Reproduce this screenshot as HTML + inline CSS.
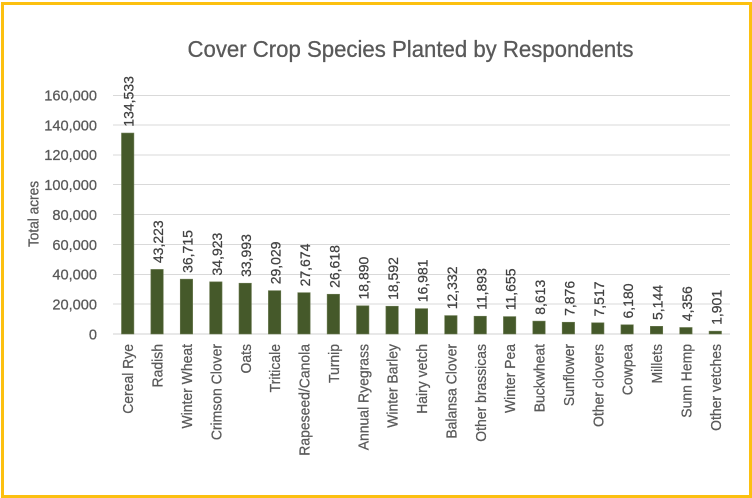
<!DOCTYPE html>
<html>
<head>
<meta charset="utf-8">
<style>
html,body{margin:0;padding:0;background:#fff;}
svg{display:block;}
text{font-family:"Liberation Sans",sans-serif;}
.tk{font-size:14.6px;fill:#595959;stroke:#595959;stroke-width:0.25;text-anchor:end;}
.dl{font-size:14px;fill:#404040;stroke:#404040;stroke-width:0.25;}
.cl{font-size:14.7px;fill:#595959;stroke:#595959;stroke-width:0.25;text-anchor:end;}
.bar{fill:#45592a;stroke:#6b7a52;stroke-width:0.6;}
.grid{stroke:#d9d9d9;stroke-width:1;}
</style>
</head>
<body>
<svg width="752" height="498" viewBox="0 0 752 498" xmlns="http://www.w3.org/2000/svg">
<rect x="0" y="0" width="752" height="498" fill="#fff"/>
<rect x="2.5" y="3.5" width="748" height="493" fill="none" stroke="#fcc010" stroke-width="3"/>

<text x="410.5" y="57" font-size="23" fill="#595959" stroke="#595959" stroke-width="0.3" text-anchor="middle" textLength="446" lengthAdjust="spacingAndGlyphs">Cover Crop Species Planted by Respondents</text>

<!-- gridlines -->
<line class="grid" x1="113" x2="730" y1="95.5" y2="95.5"/>
<line class="grid" x1="113" x2="730" y1="125" y2="125"/>
<line class="grid" x1="113" x2="730" y1="155" y2="155"/>
<line class="grid" x1="113" x2="730" y1="184.5" y2="184.5"/>
<line class="grid" x1="113" x2="730" y1="214.5" y2="214.5"/>
<line class="grid" x1="113" x2="730" y1="244.5" y2="244.5"/>
<line class="grid" x1="113" x2="730" y1="274.5" y2="274.5"/>
<line class="grid" x1="113" x2="730" y1="304" y2="304"/>
<line x1="113" x2="730" y1="334" y2="334" stroke="#d0d0d0" stroke-width="1"/>

<!-- tick labels -->
<text class="tk" x="97" y="100.5">160,000</text>
<text class="tk" x="97" y="130.3">140,000</text>
<text class="tk" x="97" y="160.2">120,000</text>
<text class="tk" x="97" y="190">100,000</text>
<text class="tk" x="97" y="219.9">80,000</text>
<text class="tk" x="97" y="249.8">60,000</text>
<text class="tk" x="97" y="279.6">40,000</text>
<text class="tk" x="97" y="309.5">20,000</text>
<text class="tk" x="97" y="339.3">0</text>

<!-- axis title -->
<text transform="translate(38.3,214) rotate(-90) scale(0.93,1)" font-size="14.7" fill="#595959" stroke="#595959" stroke-width="0.25" text-anchor="middle">Total acres</text>

<!-- bars -->
<rect class="bar" x="121.49" y="133.04" width="12.4" height="200.96"/>
<rect class="bar" x="150.87" y="269.43" width="12.4" height="64.57"/>
<rect class="bar" x="180.25" y="279.16" width="12.4" height="54.84"/>
<rect class="bar" x="209.63" y="281.83" width="12.4" height="52.17"/>
<rect class="bar" x="239.01" y="283.22" width="12.4" height="50.78"/>
<rect class="bar" x="268.39" y="290.64" width="12.4" height="43.36"/>
<rect class="bar" x="297.77" y="292.66" width="12.4" height="41.34"/>
<rect class="bar" x="327.15" y="294.24" width="12.4" height="39.76"/>
<rect class="bar" x="356.53" y="305.78" width="12.4" height="28.22"/>
<rect class="bar" x="385.91" y="306.23" width="12.4" height="27.77"/>
<rect class="bar" x="415.29" y="308.63" width="12.4" height="25.37"/>
<rect class="bar" x="444.67" y="315.58" width="12.4" height="18.42"/>
<rect class="bar" x="474.05" y="316.23" width="12.4" height="17.77"/>
<rect class="bar" x="503.43" y="316.59" width="12.4" height="17.41"/>
<rect class="bar" x="532.81" y="321.13" width="12.4" height="12.87"/>
<rect class="bar" x="562.19" y="322.24" width="12.4" height="11.76"/>
<rect class="bar" x="591.57" y="322.77" width="12.4" height="11.23"/>
<rect class="bar" x="620.95" y="324.77" width="12.4" height="9.23"/>
<rect class="bar" x="650.33" y="326.32" width="12.4" height="7.68"/>
<rect class="bar" x="679.71" y="327.49" width="12.4" height="6.51"/>
<rect class="bar" x="709.09" y="331.16" width="12.4" height="2.84"/>

<!-- data labels -->
<text class="dl" transform="translate(133.69,126.7) rotate(-90)">134,533</text>
<text class="dl" transform="translate(163.07,263.1) rotate(-90)">43,223</text>
<text class="dl" transform="translate(192.45,272.9) rotate(-90)">36,715</text>
<text class="dl" transform="translate(221.83,275.5) rotate(-90)">34,923</text>
<text class="dl" transform="translate(251.21,276.9) rotate(-90)">33,993</text>
<text class="dl" transform="translate(280.59,284.3) rotate(-90)">29,029</text>
<text class="dl" transform="translate(309.97,286.4) rotate(-90)">27,674</text>
<text class="dl" transform="translate(339.35,287.9) rotate(-90)">26,618</text>
<text class="dl" transform="translate(368.73,299.5) rotate(-90)">18,890</text>
<text class="dl" transform="translate(398.11,299.9) rotate(-90)">18,592</text>
<text class="dl" transform="translate(427.49,302.3) rotate(-90)">16,981</text>
<text class="dl" transform="translate(456.87,309.3) rotate(-90)">12,332</text>
<text class="dl" transform="translate(486.25,309.9) rotate(-90)">11,893</text>
<text class="dl" transform="translate(515.63,310.3) rotate(-90)">11,655</text>
<text class="dl" transform="translate(545.01,314.8) rotate(-90)">8,613</text>
<text class="dl" transform="translate(574.39,315.9) rotate(-90)">7,876</text>
<text class="dl" transform="translate(603.77,316.5) rotate(-90)">7,517</text>
<text class="dl" transform="translate(633.15,318.5) rotate(-90)">6,180</text>
<text class="dl" transform="translate(662.53,320.0) rotate(-90)">5,144</text>
<text class="dl" transform="translate(691.91,321.2) rotate(-90)">4,356</text>
<text class="dl" transform="translate(721.29,324.9) rotate(-90)">1,901</text>

<!-- category labels -->
<text class="cl" transform="translate(133.2,344) rotate(-90) scale(0.95,1)">Cereal Rye</text>
<text class="cl" transform="translate(162.6,344) rotate(-90) scale(0.95,1)">Radish</text>
<text class="cl" transform="translate(192.0,344) rotate(-90) scale(0.95,1)">Winter Wheat</text>
<text class="cl" transform="translate(221.4,344) rotate(-90) scale(0.95,1)">Crimson Clover</text>
<text class="cl" transform="translate(250.8,344) rotate(-90) scale(0.95,1)">Oats</text>
<text class="cl" transform="translate(280.1,344) rotate(-90) scale(0.95,1)">Triticale</text>
<text class="cl" transform="translate(309.5,344) rotate(-90) scale(0.95,1)">Rapeseed/Canola</text>
<text class="cl" transform="translate(338.9,344) rotate(-90) scale(0.95,1)">Turnip</text>
<text class="cl" transform="translate(368.3,344) rotate(-90) scale(0.95,1)">Annual Ryegrass</text>
<text class="cl" transform="translate(397.6,344) rotate(-90) scale(0.95,1)">Winter Barley</text>
<text class="cl" transform="translate(427.0,344) rotate(-90) scale(0.95,1)">Hairy vetch</text>
<text class="cl" transform="translate(456.4,344) rotate(-90) scale(0.95,1)">Balansa Clover</text>
<text class="cl" transform="translate(485.8,344) rotate(-90) scale(0.95,1)">Other brassicas</text>
<text class="cl" transform="translate(515.2,344) rotate(-90) scale(0.95,1)">Winter Pea</text>
<text class="cl" transform="translate(544.5,344) rotate(-90) scale(0.95,1)">Buckwheat</text>
<text class="cl" transform="translate(573.9,344) rotate(-90) scale(0.95,1)">Sunflower</text>
<text class="cl" transform="translate(603.3,344) rotate(-90) scale(0.95,1)">Other clovers</text>
<text class="cl" transform="translate(632.7,344) rotate(-90) scale(0.95,1)">Cowpea</text>
<text class="cl" transform="translate(662.0,344) rotate(-90) scale(0.95,1)">Millets</text>
<text class="cl" transform="translate(691.4,344) rotate(-90) scale(0.95,1)">Sunn Hemp</text>
<text class="cl" transform="translate(720.8,344) rotate(-90) scale(0.95,1)">Other vetches</text>
</svg>
</body>
</html>
